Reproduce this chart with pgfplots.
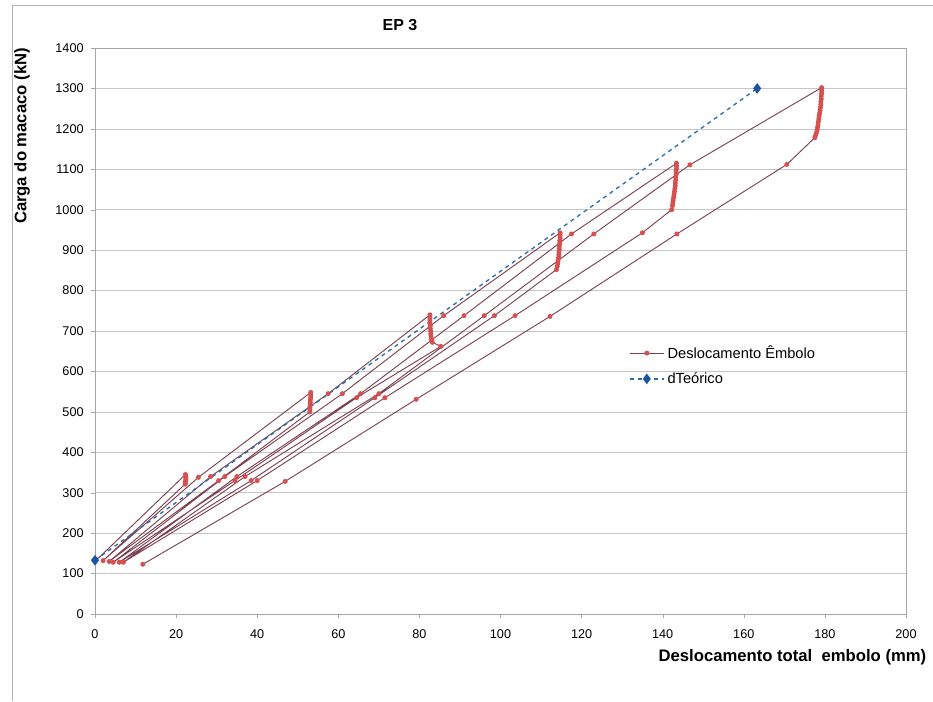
\documentclass[border=0pt]{standalone}
\usepackage{fontspec}
\setmainfont{Liberation Sans}
\usepackage{pgfplots}
\pgfplotsset{compat=1.18}
\definecolor{redline}{RGB}{125,65,80}
\definecolor{redmark}{RGB}{215,80,80}
\definecolor{blueline}{RGB}{40,110,170}
\definecolor{bluemark}{RGB}{25,85,160}
\begin{document}
\begin{tikzpicture}
\begin{axis}[
  at={(0pt,0pt)}, anchor=south west, scale only axis,
  width=608.25pt, height=424.5pt,
  xmin=0, xmax=200, ymin=0, ymax=1400,
  xtick={0,20,...,200}, ytick={0,100,...,1400},
  ymajorgrids, grid style={gray!45, line width=0.4pt},
  axis line style={gray!70, line width=0.5pt},
  tick align=outside, major tick length=3pt, tick style={gray!70},
  xtick pos=bottom, ytick pos=left,
  ticklabel style={font=\fontsize{9.5}{11}\selectfont},
  xticklabel style={yshift=-5pt},
  yticklabel style={xshift=-2pt},
  /pgf/number format/assume math mode=true,
  /pgf/number format/set thousands separator={},
  legend style={at={(0.653,0.484)}, anchor=north west, draw=none, fill=none,
    font=\fontsize{11}{13}\selectfont, row sep=5pt},
  legend cell align=left,
  legend image code/.code={\draw[mark repeat=2,mark phase=2,#1] plot coordinates {(0pt,0pt) (13pt,0pt) (26pt,0pt)};},
]
\addplot[color=redline, line width=0.7pt, mark=*, mark size=1.5pt,
  mark options={fill=redmark, draw=redmark, solid}] coordinates {
  % cycle 1
  (0,130) (22.3,345)
  (22.4,340) (22.4,336) (22.4,332) (22.3,328) (22.3,324) (22.2,321)
  (2,132)
  % cycle 2
  (25.5,338) (53.2,548)
  (53.2,542) (53.2,536) (53.1,530) (53.1,524) (53.1,518) (53.0,512) (53.0,506) (53.0,500)
  (30.5,330) (3.5,130)
  % cycle 3
  (28.5,340) (57.5,545) (82.6,740)
  (82.6,734) (82.6,727) (82.6,720) (82.7,713) (82.7,706) (82.8,699) (82.8,692) (82.9,685) (83,678) (83.2,672) (85.3,662)
  (64.5,535) (34.5,330) (4.5,128)
  % cycle 4
  (32,340) (61,545) (86,738) (114.7,943)
  (114.7,937) (114.7,930) (114.6,923) (114.6,916) (114.5,909) (114.5,902) (114.4,895) (114.4,888) (114.3,881) (114.2,874) (114.1,867) (114.0,860) (113.8,852)
  (98.5,738) (69,535) (38.5,330) (6,128)
  % cycle 5
  (35,340) (65.5,545) (91,738) (117.5,940) (143.4,1115)
  (143.4,1108) (143.4,1101) (143.3,1094) (143.3,1087) (143.2,1080) (143.2,1073) (143.1,1066) (143.1,1059) (143,1052) (142.9,1045) (142.8,1038) (142.7,1031) (142.6,1024) (142.5,1017) (142.4,1010) (142.2,1000)
  (135,943) (103.6,738) (71.5,535) (40,330) (7,128)
  % cycle 6
  (37,340) (70,545) (96,738) (123,940) (146.7,1111) (179.2,1302)
  (179.2,1295) (179.2,1288) (179.1,1281) (179.1,1274) (179,1267) (179,1260) (178.9,1253) (178.8,1246) (178.7,1239) (178.6,1232) (178.5,1225) (178.4,1218) (178.3,1211) (178.2,1204) (178.1,1197) (177.9,1190) (177.7,1184) (177.5,1178)
  (170.6,1112) (143.5,940) (112.2,736) (79.2,531) (46.9,328) (11.8,123)
};
\addlegendentry{Deslocamento Êmbolo}
\addplot[color=blueline, line width=1pt, dashed, mark=diamond*, mark size=3.2pt,
  mark options={fill=bluemark, draw=bluemark, solid}] coordinates {
  (0,133) (163.3,1300)
};
\addlegendentry{dTeórico}
\end{axis}
\draw[gray!60, line width=0.5pt] (-62.25pt,-65.25pt) -- (-62.25pt,456.75pt) -- (628.5pt,456.75pt);
\node[font=\bfseries\fontsize{12}{14}\selectfont] at (228.75pt,441.75pt) {EP 3};
\node[font=\bfseries\fontsize{12.5}{14}\selectfont, rotate=90] at (-54.75pt,358.5pt) {Carga do macaco (kN)};
\node[font=\bfseries\fontsize{12.5}{14}\selectfont, anchor=east] at (627pt,-32.25pt) {Deslocamento total\ \ embolo (mm)};
\pgfresetboundingbox
\path[use as bounding box] (-71.25pt,-65.25pt) rectangle (628.5pt,460.5pt);
\end{tikzpicture}
\end{document}
